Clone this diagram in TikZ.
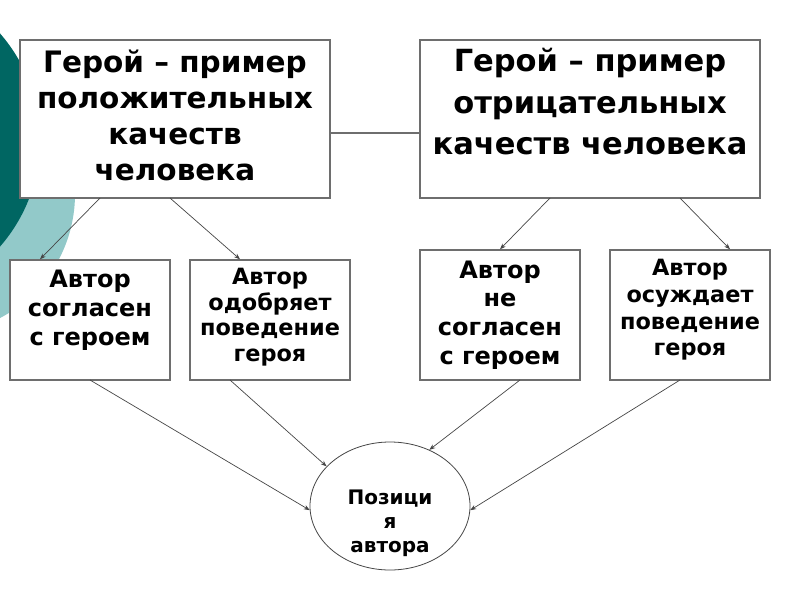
\documentclass[tikz,border=0pt]{standalone}
\usepackage{fontspec}
\setmainfont{DejaVu Sans}
\usetikzlibrary{arrows.meta,shapes.geometric}
\definecolor{darkteal}{RGB}{0,102,98}
\definecolor{lightteal}{RGB}{146,201,201}
\definecolor{boxline}{RGB}{110,110,110}
\definecolor{arrowc}{RGB}{70,70,70}
\tikzset{
  box/.style={draw=boxline, line width=1.4pt, fill=white, align=center, inner sep=0pt, font=\bfseries},
  txt/.style={align=center, inner sep=0pt},
  conn/.style={draw=arrowc, line width=0.7pt, -{Stealth[length=6pt,width=4.5pt]}},
  plain/.style={draw=boxline, line width=1.4pt},
}
\begin{document}
\begin{tikzpicture}[x=1pt,y=-1pt]
\useasboundingbox (0,0) rectangle (800,600);
\fill[white] (0,0) rectangle (800,600);
% background decoration
\begin{scope}
\clip (0,0) rectangle (800,600);
\fill[lightteal] (-65,194) circle (140);
\fill[darkteal] (-122,140) circle (162);
\end{scope}
% top boxes
\node[box, minimum width=310, minimum height=158] (A) at (175,119) {};
\node[txt, font=\bfseries\fontsize{29.5}{36}\selectfont] (At) at (175,115) {Герой – пример\\положительных\\качеств\\человека};
\node[box, minimum width=340, minimum height=158] (B) at (590,119) {};
\node[txt, font=\bfseries\fontsize{30.5}{41.5}\selectfont] (Bt) at (590,102) {Герой – пример\\отрицательных\\качеств человека};
\draw[plain] ([yshift=-14pt]A.east) -- ([yshift=-14pt]B.west);
% second row
\node[box, minimum width=160, minimum height=120] (C1) at (90,320) {};
\node[txt, font=\bfseries\fontsize{24}{29}\selectfont] (C1t) at (90,310) {Автор\\согласен\\с героем};
\node[box, minimum width=160, minimum height=120] (C2) at (270,320) {};
\node[txt, font=\bfseries\fontsize{22.4}{25.5}\selectfont] (C2t) at (270,317) {Автор\\одобряет\\поведение\\героя};
\node[box, minimum width=160, minimum height=130] (C3) at (500,315) {};
\node[txt, font=\bfseries\fontsize{24}{28.7}\selectfont] (C3t) at (500,315) {Автор\\не\\согласен\\с героем};
\node[box, minimum width=160, minimum height=130] (C4) at (690,315) {};
\node[txt, font=\bfseries\fontsize{22.4}{26.7}\selectfont] (C4t) at (690,310) {Автор\\осуждает\\поведение\\героя};
% ellipse
\node[draw=arrowc, line width=0.8pt, ellipse, minimum width=160, minimum height=128, inner sep=0pt] (E) at (390,506) {};
\node[txt, font=\bfseries\fontsize{20}{24}\selectfont] (Et) at (390,523) {Позици\\я\\автора};
% connectors
\coordinate (a1) at (100,198);
\coordinate (a2) at (170,198);
\coordinate (b1) at (550,198);
\coordinate (b2) at (680,198);
\draw[conn] (a1) -- ([xshift=-50pt]C1.north);
\draw[conn] (a2) -- ([xshift=-30pt]C2.north);
\draw[conn] (b1) -- (C3.north);
\draw[conn] (b2) -- ([xshift=40pt]C4.north);
\coordinate (c1) at (90,380);
\coordinate (c2) at (230,380);
\coordinate (c3) at (520,380);
\coordinate (c4) at (680,380);
\draw[conn] (c1) -- (E.183);
\draw[conn] (c2) -- (E.148);
\draw[conn] (c3) -- (E.55);
\draw[conn] (c4) -- (E.-3);
\end{tikzpicture}
\end{document}
